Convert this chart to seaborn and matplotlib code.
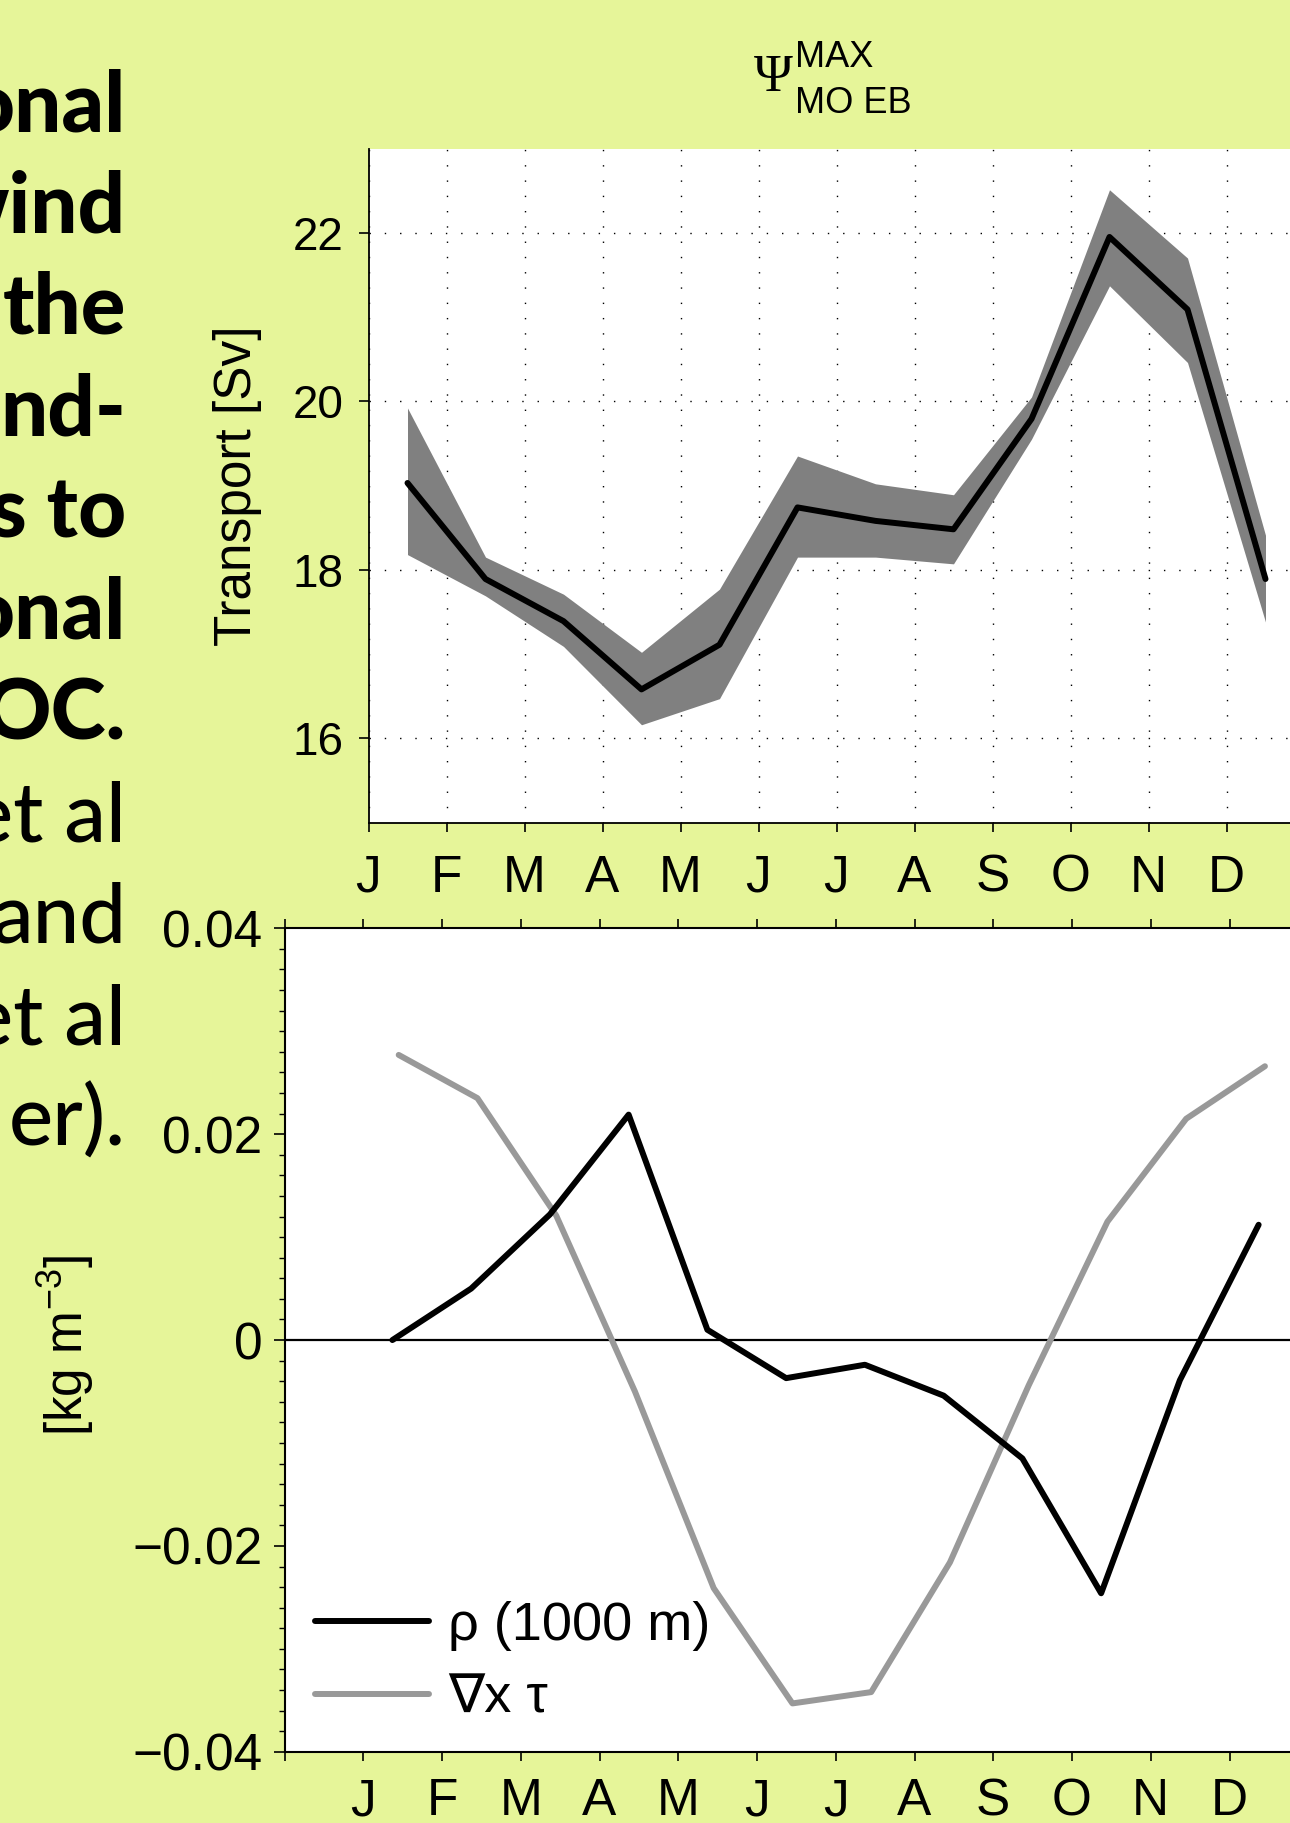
import numpy as np
import matplotlib
matplotlib.use("Agg")
import matplotlib.pyplot as plt
from matplotlib.ticker import MultipleLocator, FixedLocator, FixedFormatter
import seaborn as sns
import pandas as pd

# ---- data ----
months = ['J', 'F', 'M', 'A', 'M', 'J', 'J', 'A', 'S', 'O', 'N', 'D']
moc_mean = [19.03, 17.89, 17.39, 16.58, 17.11, 18.74, 18.58, 18.48, 19.79, 21.95, 21.09, 17.89]
moc_upper = [19.92, 18.15, 17.71, 17.02, 17.77, 19.35, 19.02, 18.89, 20.05, 22.51, 21.70, 18.41]
moc_lower = [18.18, 17.69, 17.09, 16.16, 16.47, 18.15, 18.15, 18.07, 19.55, 21.37, 20.46, 17.38]
rho_1000 = [0.0, 0.0050, 0.0122, 0.0219, 0.0010, -0.0037, -0.0024, -0.0054, -0.0115, -0.0246, -0.0039, 0.0112]
curl_tau = [0.0277, 0.0235, 0.0121, -0.0050, -0.0241, -0.0353, -0.0342, -0.0216, -0.0044, 0.0115, 0.0215, 0.0266]
top_yticks = [16, 18, 20, 22]
bot_yticks = [-0.04, -0.02, 0, 0.02, 0.04]
bot_yticklabels = ['\u22120.04', '\u22120.02', '0', '0.02', '0.04']
left_bold = ['onal', 'wind', 'the', 'nd-', 's to', 'onal', 'OC.']
left_regular = ['et al', 'and', 'et al', 'er).']

BG = '#E6F599'
W, H = 1290, 1823

sns.set_theme(style='ticks')
plt.rcParams['font.family'] = ['Liberation Sans', 'DejaVu Sans']
plt.rcParams['mathtext.default'] = 'regular'
plt.rcParams['axes.linewidth'] = 1.3
for key in ['text.color', 'axes.labelcolor', 'xtick.color', 'ytick.color', 'axes.edgecolor']:
    plt.rcParams[key] = 'black'

fig = plt.figure(figsize=(W / 100, H / 100), dpi=100, facecolor=BG)

# ---- top panel: MOC transport ----
ax1 = fig.add_axes([368.5 / W, 1 - 822.5 / H, 936 / W, 674 / H])
ax1.set_facecolor('white')
df1 = pd.DataFrame({'month': np.arange(12) + 0.5, 'mean': moc_mean,
                    'lo': moc_lower, 'hi': moc_upper})
ax1.fill_between(df1['month'], df1['lo'], df1['hi'], color='#808080', lw=0, zorder=1)
sns.lineplot(data=df1, x='month', y='mean', ax=ax1, color='black', lw=4.3, zorder=3)
ax1.set_xlim(0, 12)
ax1.set_ylim(15, 23)
ax1.set_xticks(range(12))
ax1.set_xticklabels(months)
ax1.set_yticks(top_yticks)
ax1.set_axisbelow(True)
ax1.grid(True, color='black', lw=1.0, linestyle=(0, (1, 10)))
ax1.spines['top'].set_visible(False)
ax1.spines['right'].set_visible(False)
ax1.tick_params(axis='x', direction='out', length=6.5, width=1.2, labelsize=37, pad=16)
ax1.tick_params(axis='y', direction='out', length=7.2, width=1.2, labelsize=33, pad=11)
ax1.set_xlabel('')
ax1.set_ylabel('')

# ---- bottom panel: density and wind-stress curl ----
ax2 = fig.add_axes([284.5 / W, 1 - 1751.8 / H, 13 * 78.75 / W, 823.5 / H])
ax2.set_facecolor('white')
ax2.axhline(0, color='black', lw=1.6, zorder=1)
df2 = pd.DataFrame({'month': np.arange(1, 13), 'rho': rho_1000, 'curl': curl_tau})
sns.lineplot(x=df2['month'] + 0.37, y=df2['rho'], ax=ax2, color='black', lw=4.3,
             label='\u03c1 (1000 m)', zorder=3)
sns.lineplot(x=df2['month'] + 0.45, y=df2['curl'], ax=ax2, color='#999999', lw=4.3,
             label='\u2207x \u03c4', zorder=2)
ax2.set_xlim(0, 13)
ax2.set_ylim(-0.04, 0.04)
ax2.set_xticks(range(14))
ax2.set_xticklabels([''] + months + [''])
ax2.yaxis.set_major_locator(FixedLocator(bot_yticks))
ax2.yaxis.set_major_formatter(FixedFormatter(bot_yticklabels))
ax2.yaxis.set_minor_locator(MultipleLocator(0.002))
for s in ax2.spines.values():
    s.set_linewidth(1.5)
ax2.tick_params(axis='x', which='major', direction='out', length=6.5, width=1.2,
                top=True, labeltop=False, labelsize=37, pad=12)
ax2.tick_params(axis='y', which='major', direction='out', length=8, width=1.2,
                labelsize=37, pad=8)
ax2.tick_params(axis='y', which='minor', direction='out', length=4, width=1.0,
                left=True, right=False)
ax2.set_xlabel('')
ax2.set_ylabel('')
ax2.legend(loc='upper left', bbox_to_anchor=(0.0298, 0.183), frameon=False,
           borderaxespad=0, borderpad=0, handlelength=2.1, handletextpad=0.35,
           labelspacing=0.42, fontsize=39)

# ---- axis labels and title ----
fig.text(238 / W, 1 - 486 / H, 'Transport [Sv]', rotation=90, ha='center', va='center',
         fontsize=37)
fig.text(66 / W, 1 - 1345 / H, '[kg m$^{\u22123}$]', rotation=90, ha='center', va='center',
         fontsize=37)
fig.text(754 / W, 1 - 91 / H, '\u03a8', family=['Liberation Serif', 'DejaVu Serif'],
         fontsize=38, ha='left', va='baseline')
fig.text(795 / W, 1 - 66.7 / H, 'MAX', fontsize=26, ha='left', va='baseline')
fig.text(795 / W, 1 - 112.7 / H, 'MO EB', fontsize=26, ha='left', va='baseline')

# ---- clipped slide text on the left ----
for i, line in enumerate(left_bold + left_regular):
    weight = 'black' if i < len(left_bold) else 'medium'
    fig.text(126 / W, 1 - (131 + i * 101.5) / H, line, ha='right', va='baseline',
             family=['Lato', 'DejaVu Sans'], fontweight=weight, fontsize=60)

fig.savefig('out.png', dpi=100, facecolor=BG)
